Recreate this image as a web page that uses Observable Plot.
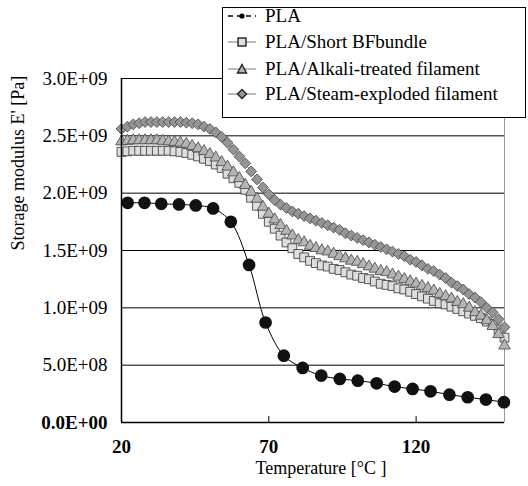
<!DOCTYPE html>
<html><head><meta charset="utf-8">
<script src="https://cdn.jsdelivr.net/npm/d3@7"></script>
<script src="https://cdn.jsdelivr.net/npm/@observablehq/plot@0.6"></script>
<style>
body{margin:0;background:#fff;}
#wrap{position:relative;width:528px;height:486px;font-family:"Liberation Serif","Times New Roman",serif;}
#legend{position:absolute;left:222px;top:7px;width:302px;height:109px;border:1px solid #000;background:#fff;}
.row{position:absolute;left:0;height:26px;display:flex;align-items:center;font-size:19px;color:#000;white-space:nowrap;}
.row svg{margin-left:5px;margin-right:9px;}
</style>
</head><body>
<div id="wrap"><div id="chart"></div><div id="legend"></div></div>
<script>
// PLA (neat)
const plaT = [22.1, 27.8, 33.5, 39.5, 45.2, 51.1, 57.1, 63.3, 68.9, 75.1, 81.5, 87.8, 94.1, 100.2, 106.6, 112.7, 118.8, 124.9, 131.3, 137.5, 143.7, 149.8];
const plaE = [1.916, 1.916, 1.907, 1.902, 1.893, 1.867, 1.750, 1.374, 0.872, 0.583, 0.476, 0.409, 0.380, 0.365, 0.342, 0.313, 0.293, 0.272, 0.243, 0.220, 0.200, 0.177];
// composites, temperature grid
const compT = [20,22,24,26,28,30,32,34,36,38,40,42,44,46,48,50,52,54,56,58,60,62,64,66,68,70,72,74,76,78,80,82,84,86,88,90,92,94,96,98,100,102,104,106,108,110,112,114,116,118,120,122,124,126,128,130,132,134,136,138,140,142,144,146,148,150];
const shortBF = [2.36,2.365,2.37,2.37,2.37,2.37,2.37,2.37,2.37,2.365,2.36,2.35,2.335,2.32,2.30,2.28,2.25,2.22,2.17,2.13,2.09,2.03,1.96,1.89,1.82,1.75,1.69,1.63,1.57,1.52,1.47,1.44,1.41,1.39,1.37,1.36,1.34,1.33,1.31,1.29,1.28,1.26,1.25,1.23,1.21,1.20,1.19,1.17,1.16,1.14,1.12,1.10,1.08,1.06,1.04,1.03,1.01,0.99,0.97,0.95,0.93,0.91,0.88,0.86,0.81,0.74];
const alkali = [2.45,2.455,2.46,2.46,2.46,2.46,2.46,2.455,2.45,2.445,2.44,2.43,2.41,2.39,2.365,2.34,2.31,2.27,2.23,2.18,2.13,2.07,2.01,1.95,1.88,1.82,1.77,1.72,1.67,1.63,1.59,1.57,1.54,1.52,1.50,1.49,1.47,1.45,1.43,1.41,1.40,1.38,1.36,1.34,1.32,1.31,1.29,1.27,1.25,1.23,1.21,1.19,1.17,1.15,1.12,1.10,1.08,1.05,1.03,1.00,0.96,0.93,0.89,0.84,0.77,0.67];
const steam = [2.56,2.58,2.60,2.61,2.62,2.62,2.62,2.62,2.62,2.62,2.62,2.615,2.61,2.60,2.58,2.56,2.53,2.49,2.44,2.38,2.32,2.26,2.19,2.12,2.05,1.99,1.94,1.90,1.87,1.84,1.82,1.80,1.78,1.76,1.74,1.72,1.70,1.68,1.65,1.63,1.61,1.59,1.57,1.55,1.53,1.51,1.49,1.47,1.45,1.42,1.40,1.37,1.34,1.32,1.29,1.26,1.22,1.19,1.16,1.12,1.09,1.05,1.00,0.96,0.90,0.83];
const xTicks = [20, 70, 120];
const yTicks = [0, 0.5e9, 1.0e9, 1.5e9, 2.0e9, 2.5e9, 3.0e9];
const seriesNames = ["PLA", "PLA/Short BFbundle", "PLA/Alkali-treated filament", "PLA/Steam-exploded filament"];

const pla = plaT.map((t, i) => ({T: t, E: plaE[i] * 1e9}));
const mk = arr => compT.map((t, i) => ({T: t, E: arr[i] * 1e9}));
const sData = mk(shortBF), aData = mk(alkali), dData = mk(steam);

const fmt = d => {
  if (d === 0) return "0.0E+00";
  const e = Math.floor(Math.log10(d) + 1e-9);
  const m = d / Math.pow(10, e);
  return m.toFixed(1) + "E+" + String(e).padStart(2, "0");
};
const font = "Liberation Serif, Times New Roman, serif";

const chart = Plot.plot({
  width: 528, height: 486,
  marginLeft: 121, marginRight: 24, marginTop: 78, marginBottom: 64,
  x: {domain: [20, 150], axis: null},
  y: {domain: [0, 3e9], axis: null},
  style: {fontFamily: font, background: "#fff"},
  marks: [
    Plot.ruleY(yTicks.filter(d => d > 0), {stroke: "#000", strokeWidth: 1}),
    Plot.ruleX([150], {stroke: "#999", strokeWidth: 1}),
    Plot.ruleX(xTicks.slice(1), {stroke: "#000", strokeWidth: 1, insetTop: 338}),
    Plot.line(sData, {x: "T", y: "E", stroke: "#999", strokeWidth: 1}),
    Plot.dot(sData, {x: "T", y: "E", symbol: "square", r: 5, fill: "#dedede", stroke: "#333", strokeWidth: 0.8}),
    Plot.line(aData, {x: "T", y: "E", stroke: "#999", strokeWidth: 1}),
    Plot.dot(aData, {x: "T", y: "E", symbol: "triangle", r: 4.3, fill: "#b4b4b4", stroke: "#444", strokeWidth: 0.8}),
    Plot.line(dData, {x: "T", y: "E", stroke: "#888", strokeWidth: 1}),
    Plot.dot(dData, {x: "T", y: "E", symbol: "diamond2", r: 4.9, fill: "#959595", stroke: "#444", strokeWidth: 0.8}),
    Plot.line(pla, {x: "T", y: "E", stroke: "#000", strokeWidth: 1, curve: "catmull-rom"}),
    Plot.dot(pla, {x: "T", y: "E", r: 5.6, fill: "#111", stroke: "#111"}),
    Plot.ruleX([20], {stroke: "#000", strokeWidth: 1.5}),
    Plot.ruleY([0], {stroke: "#000", strokeWidth: 1.5}),
    Plot.text(yTicks.filter(d => d > 0), {y: d => d, text: fmt, frameAnchor: "left", dx: -14, textAnchor: "end", fontSize: 19, fill: "#000"}),
    Plot.text([0], {y: d => d, text: fmt, frameAnchor: "left", dx: -14, textAnchor: "end", fontSize: 19, fontWeight: "bold", fill: "#000"}),
    Plot.text(xTicks, {x: d => d, text: d => String(d), frameAnchor: "bottom", dy: 30, fontSize: 19, fontWeight: "bold", fill: "#000"}),
    Plot.text(["Temperature [°C ]"], {frameAnchor: "bottom", dx: 8, dy: 51, fontSize: 18, fill: "#000"}),
    Plot.text(["Storage modulus E' [Pa]"], {frameAnchor: "left", dx: -103, rotate: -90, fontSize: 18, fill: "#000"})
  ]
});
document.getElementById("chart").appendChild(chart);

// legend
const legend = document.getElementById("legend");
const symSvg = [
  `<svg width="28" height="12"><line x1="0" y1="6" x2="28" y2="6" stroke="#000" stroke-width="1.6" stroke-dasharray="5,4"/><circle cx="14" cy="6" r="2.6" fill="#000"/></svg>`,
  `<svg width="28" height="12"><line x1="0" y1="6" x2="28" y2="6" stroke="#aaa" stroke-width="1.6"/><rect x="10" y="2" width="8" height="8" fill="#dedede" stroke="#222" stroke-width="1.4"/></svg>`,
  `<svg width="28" height="12"><line x1="0" y1="6" x2="28" y2="6" stroke="#aaa" stroke-width="1.6"/><path d="M14,1.5 L18.5,10 L9.5,10 Z" fill="#b4b4b4" stroke="#222" stroke-width="1.4"/></svg>`,
  `<svg width="28" height="12"><line x1="0" y1="6" x2="28" y2="6" stroke="#aaa" stroke-width="1.6"/><path d="M14,1.5 L18.5,6 L14,10.5 L9.5,6 Z" fill="#959595" stroke="#222" stroke-width="1.4"/></svg>`
];
const rowY = [15, 41, 68, 93];
seriesNames.forEach((name, i) => {
  const row = document.createElement("div");
  row.className = "row";
  row.style.top = (rowY[i] - 7 - 13) + "px";
  row.innerHTML = symSvg[i] + "<span>" + name + "</span>";
  legend.appendChild(row);
});
</script>
</body></html>
